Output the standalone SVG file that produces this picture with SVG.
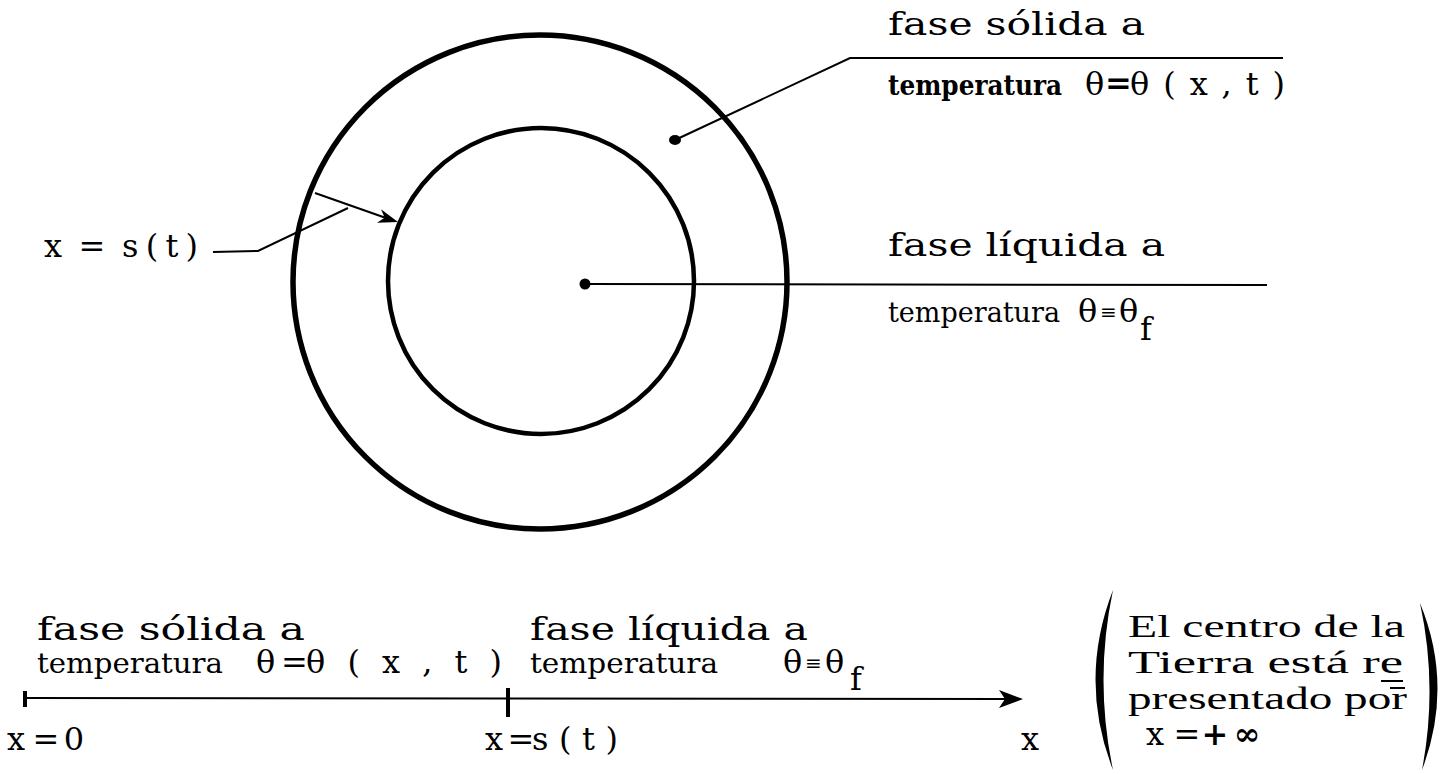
<svg xmlns="http://www.w3.org/2000/svg" width="1456" height="774" viewBox="0 0 1456 774">
<style>
.tw{font-family:"DejaVu Serif","Liberation Serif",serif;font-size:31px;fill:#000}
.tp{font-family:"DejaVu Serif","Liberation Serif",serif;font-size:28px;fill:#000}
.m{font-family:"DejaVu Serif","Liberation Serif",serif;font-size:32px;fill:#000}
.c{text-anchor:middle}
.b{font-weight:bold}
.eq{font-size:20px}
.sf{font-family:"Liberation Serif","DejaVu Serif",serif;font-size:32px;fill:#000}
.ln{fill:none;stroke:#000;stroke-width:2}
.circ{fill:none;stroke:#000}
</style>
<rect width="1456" height="774" fill="#fff"/>
<g id="outer-circle"><circle class="circ" cx="540" cy="282" r="247" stroke-width="5.5"/></g>
<g id="inner-circle"><circle class="circ" cx="541" cy="281" r="153" stroke-width="4.5"/></g>
<g id="connectors">
<polyline class="ln" points="675,140 850,58 1283,58"/>
<ellipse cx="675" cy="140" rx="6" ry="5"/>
<line class="ln" x1="585" y1="284" x2="1267" y2="285"/>
<circle cx="585" cy="284" r="5.5"/>
<polyline class="ln" points="213,252 258,251 348,208"/>
<line class="ln" x1="315" y1="193" x2="386" y2="218"/>
<polygon points="398,222 381,209.3 384.7,217.7 377,222.7"/>
</g>
<g id="label-solid">
<text class="tw" x="888" y="35" textLength="257" lengthAdjust="spacingAndGlyphs">fase sólida a</text>
<text class="tp b" x="888" y="95" font-size="24" textLength="174" lengthAdjust="spacingAndGlyphs">temperatura</text>
<text class="m" x="1085" y="95">θ</text>
<text class="m b" x="1105" y="94" font-size="21">=</text>
<text class="m" x="1130" y="95" textLength="155" lengthAdjust="spacing">θ(x,t)</text>
</g>
<g id="label-liquid">
<text class="tw" x="888" y="256" textLength="277" lengthAdjust="spacingAndGlyphs">fase líquida a</text>
<text class="tp" x="888" y="322" textLength="172" lengthAdjust="spacingAndGlyphs">temperatura</text>
<text class="m" x="1078" y="322">θ</text>
<text class="m eq" x="1100" y="319">≡</text>
<text class="m" x="1119" y="322">θ</text>
<text class="m" x="1140" y="340">f</text>
</g>
<g id="label-s">
<text class="m c" x="53" y="257">x</text>
<text class="m c" x="92" y="257">=</text>
<text class="m" x="122" y="257" textLength="76" lengthAdjust="spacing">s(t)</text>
</g>
<g id="axis">
<line class="ln" x1="25" y1="698" x2="1008" y2="699"/>
<rect x="23" y="691" width="4" height="16"/>
<rect x="506" y="688" width="4" height="29"/>
<polygon points="1023,699 999,690 1005,699 999,708"/>
</g>
<g id="axis-solid">
<text class="tw" x="37" y="640" textLength="268" lengthAdjust="spacingAndGlyphs">fase sólida a</text>
<text class="tp" x="37" y="673" font-size="29" textLength="186" lengthAdjust="spacingAndGlyphs">temperatura</text>
<text class="m" x="256" y="673">θ</text>
<text class="m" x="281" y="673" font-size="26">=</text>
<text class="m" x="306" y="673" textLength="196" lengthAdjust="spacing">θ(x,t)</text>
<text class="m c" x="16" y="750">x</text>
<text class="m c" x="46" y="750">=</text>
<text class="m c" x="74" y="750">0</text>
</g>
<g id="axis-liquid">
<text class="tw" x="530" y="640" textLength="278" lengthAdjust="spacingAndGlyphs">fase líquida a</text>
<text class="tp" x="530" y="673" font-size="29" textLength="188" lengthAdjust="spacingAndGlyphs">temperatura</text>
<text class="m" x="783" y="673">θ</text>
<text class="m eq" x="805" y="670">≡</text>
<text class="m" x="825" y="673">θ</text>
<text class="m" x="850" y="690">f</text>
<text class="m c" x="494" y="750">x</text>
<text class="m c" x="521" y="750" font-size="24">=</text>
<text class="m" x="532" y="750" textLength="86" lengthAdjust="spacing">s(t)</text>
<text class="m c" x="1030" y="750">x</text>
</g>
<g id="note">
<path d="M1113,590 Q1078,680 1113,770 Q1094,680 1113,590 Z"/>
<path d="M1420,603 Q1454,686 1422,770 Q1438,686 1420,603 Z"/>
<text class="sf" x="1128" y="637" textLength="277" lengthAdjust="spacingAndGlyphs">El centro de la</text>
<text class="sf" x="1128" y="673" textLength="275" lengthAdjust="spacingAndGlyphs">Tierra está re</text>
<text class="sf" x="1128" y="709" textLength="279" lengthAdjust="spacingAndGlyphs">presentado por</text>
<line class="ln" x1="1381" y1="681" x2="1403" y2="681" stroke-width="1.5"/>
<line class="ln" x1="1390" y1="688" x2="1405" y2="688" stroke-width="1.5"/>
<text class="m c" x="1155" y="745" font-size="27">x</text>
<text class="m c" x="1187" y="745" font-size="25">=</text>
<text class="m c b" x="1215" y="745" font-size="20">+</text>
<text class="m c b" x="1247" y="745" font-size="29">∞</text>
</g>
</svg>
